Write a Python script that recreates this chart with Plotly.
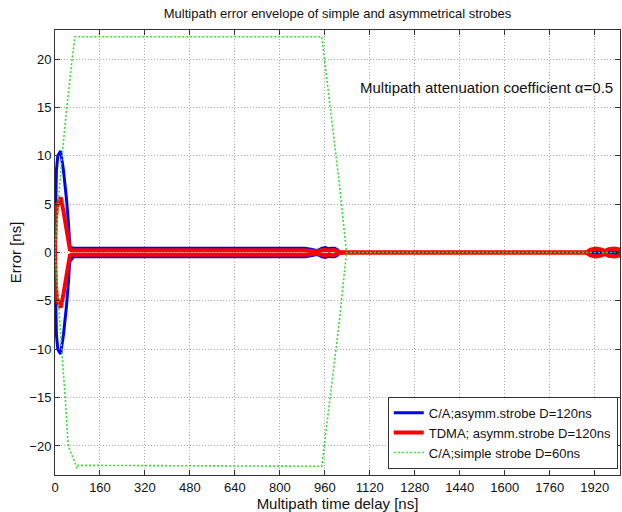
import plotly.graph_objects as go

# ---------------- data ----------------
# C/A; asymmetrical strobe D=120ns  (upper / lower envelope)
ca_asym_up_x = [0, 2, 5, 10, 20, 30, 41, 48, 53, 56, 60, 66, 890, 910, 930, 940, 950, 962, 972, 982, 995, 1005, 1012, 1040, 1890, 1905, 1930, 1955, 1975, 2010]
ca_asym_up_y = [0, 4.0, 8.5, 10.0, 10.5, 8.5, 5.5, 3.0, 0.5, 0.35, 0.5, 0.45, 0.45, 0.35, 0.2, 0.3, 0.45, 0.5, 0.4, 0.45, 0.45, 0.3, 0.05, 0, 0, 0.08, 0.1, 0.05, 0.1, 0.1]
ca_asym_lo_x = [0, 2, 5, 10, 20, 30, 41, 48, 53, 56, 59, 63, 68, 890, 910, 930, 940, 950, 962, 972, 982, 995, 1005, 1012, 1040, 1890, 1905, 1930, 1955, 1975, 2010]
ca_asym_lo_y = [0, -4.0, -8.5, -10.0, -10.5, -8.5, -5.5, -3.0, -0.5, -0.55, -0.7, -0.55, -0.45, -0.45, -0.35, -0.2, -0.3, -0.45, -0.5, -0.4, -0.45, -0.45, -0.3, -0.05, 0, 0, -0.08, -0.1, -0.05, -0.1, -0.1]

# TDMA; asymmetrical strobe D=120ns
tdma_up_x = [0, 3, 8, 20, 30, 42, 53, 60, 890, 930, 945, 960, 975, 990, 1005, 1015, 1890, 1905, 1925, 1945, 1955, 1970, 1990, 2010]
tdma_up_y = [0, 3.5, 5.0, 5.7, 4.3, 2.2, 0.3, 0.22, 0.22, 0.1, 0.2, 0.28, 0.22, 0.28, 0.15, 0, 0, 0.3, 0.4, 0.3, 0.15, 0.35, 0.4, 0.3]
tdma_lo_x = [0, 3, 8, 20, 30, 42, 53, 60, 890, 930, 945, 960, 975, 990, 1005, 1015, 1890, 1905, 1925, 1945, 1955, 1970, 1990, 2010]
tdma_lo_y = [0, -3.5, -5.0, -5.7, -4.3, -2.2, -0.3, -0.22, -0.22, -0.1, -0.2, -0.28, -0.22, -0.28, -0.15, 0, 0, -0.3, -0.4, -0.3, -0.15, -0.35, -0.4, -0.3]

# C/A; simple strobe D=60ns
ca_simple_up_x = [0, 10, 25, 42, 61, 71, 949, 1010, 1037, 2010]
ca_simple_up_y = [0, 4.5, 10.0, 15.0, 20.0, 22.3, 22.3, 7.5, 0, 0]
ca_simple_lo_x = [0, 20, 37, 47, 75, 78, 82, 949, 1010, 1037]
ca_simple_lo_y = [0, -8.5, -15.3, -20.0, -22.0, -22.3, -22.0, -22.1, -7.5, 0]

x_ticks = [0, 160, 320, 480, 640, 800, 960, 1120, 1280, 1440, 1600, 1760, 1920]
y_ticks = [-20, -15, -10, -5, 0, 5, 10, 15, 20]

names = ["C/A;asymm.strobe D=120ns", "TDMA; asymm.strobe D=120ns", "C/A;simple strobe D=60ns"]
title_text = "Multipath error envelope of simple and asymmetrical strobes"
note_text = "Multipath attenuation coefficient \u03b1=0.5"


def joined(ux, uy, lx, ly):
    return ux + [None] + lx, uy + [None] + ly


FONT = "Liberation Sans, Arial, sans-serif"
TXT = "#111111"

fig = go.Figure()
bx, by = joined(ca_asym_up_x, ca_asym_up_y, ca_asym_lo_x, ca_asym_lo_y)
rx, ry = joined(tdma_up_x, tdma_up_y, tdma_lo_x, tdma_lo_y)
gx, gy = joined(ca_simple_up_x, ca_simple_up_y, ca_simple_lo_x, ca_simple_lo_y)

fig.add_trace(go.Scatter(x=bx, y=by, mode="lines", name=names[0],
                         line=dict(color="#0000ff", width=3, simplify=False), connectgaps=False))
fig.add_trace(go.Scatter(x=rx, y=ry, mode="lines", name=names[1],
                         line=dict(color="#ff0000", width=4, simplify=False), connectgaps=False))
fig.add_trace(go.Scatter(x=gx, y=gy, mode="lines", name=names[2],
                         line=dict(color="#33dd33", width=1.6, dash="2px,2px", simplify=False),
                         connectgaps=False))

axis_common = dict(
    showline=True, linecolor="#333333", linewidth=1, mirror="ticks",
    ticks="inside", ticklen=5, tickcolor="#333333",
    showgrid=True, gridcolor="#a8a8a8", griddash="1px,2px", gridwidth=1,
    zeroline=False, tickfont=dict(family=FONT, size=13, color=TXT),
)

fig.update_layout(
    width=622, height=512,
    margin=dict(l=55, r=2, t=30, b=37),
    paper_bgcolor="white", plot_bgcolor="white",
    title=dict(text=title_text, x=0.5, xref="paper", y=1 - 13 / 512, yref="container",
               yanchor="middle", font=dict(family=FONT, size=13, color=TXT)),
    xaxis=dict(range=[0, 2010], tickvals=x_ticks,
               title=dict(text="Multipath time delay [ns]", standoff=2,
                          font=dict(family=FONT, size=15, color=TXT)),
               **axis_common),
    yaxis=dict(range=[-23, 23], tickvals=y_ticks,
               title=dict(text="Error [ns]", standoff=4,
                          font=dict(family=FONT, size=15, color=TXT)),
               **axis_common),
    legend=dict(x=0.996, y=0.014, xanchor="right", yanchor="bottom",
                bgcolor="white", bordercolor="#333333", borderwidth=1,
                font=dict(family=FONT, size=13, color=TXT),
                tracegroupgap=0, itemwidth=30),
    showlegend=True,
    annotations=[dict(text=note_text, x=1991, y=17.1, xref="x", yref="y",
                      xanchor="right", yanchor="middle", showarrow=False,
                      font=dict(family=FONT, size=15, color=TXT))],
)

fig.write_html("out.html")
